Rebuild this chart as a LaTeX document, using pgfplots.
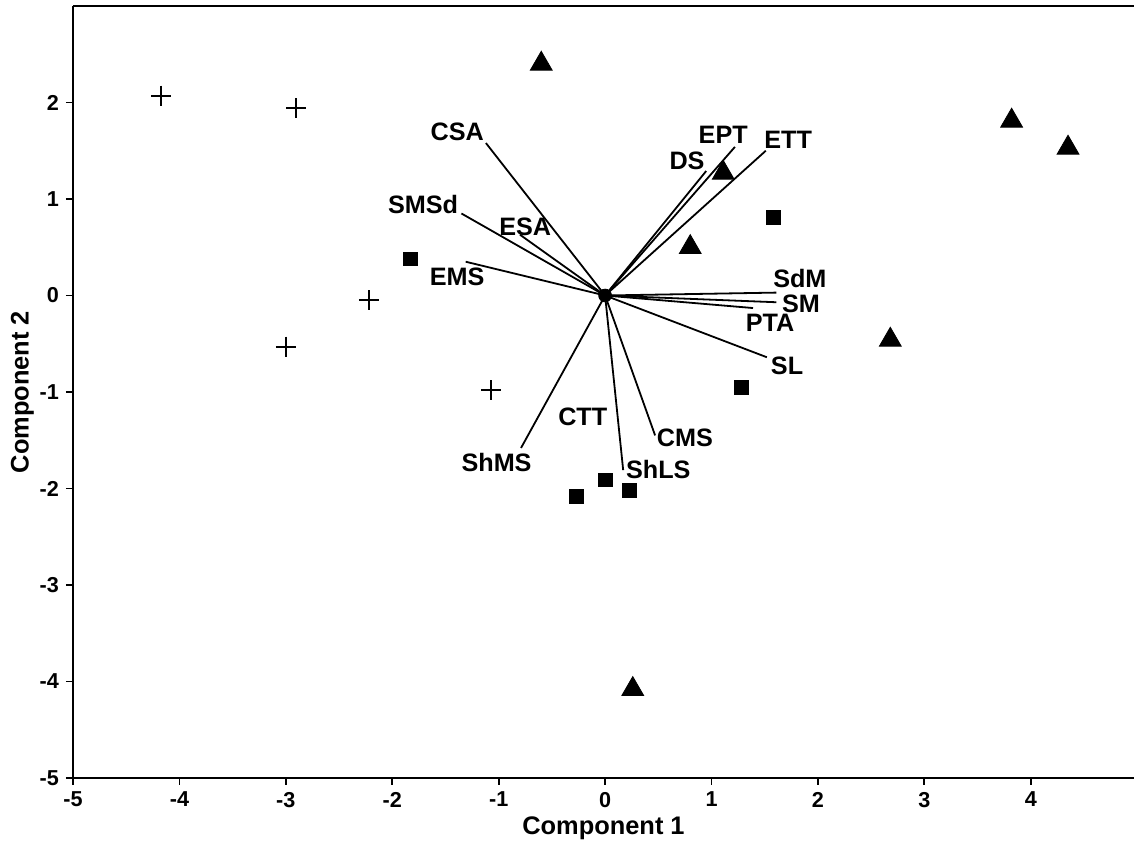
\documentclass[border=0pt]{standalone}
\usepackage{fontspec}
\setmainfont{Liberation Sans}
\usepackage{pgfplots}
\pgfplotsset{compat=1.18}
\usetikzlibrary{calc}
\begin{document}
\begin{tikzpicture}
\begin{axis}[
  scale only axis, width=530.5pt, height=386pt,
  xmin=-5, xmax=4.97, ymin=-5, ymax=3,
  xtick={-5,...,4}, ytick={-5,...,2},
  axis x line=box, axis y line=left,
  x axis line style={-, line width=1pt},
  y axis line style={-, line width=1pt},
  xtick pos=bottom, ytick pos=left,
  tick align=outside, major tick length=3.5pt,
  tick style={line width=0.9pt, black},
  /pgf/number format/assume math mode=true,
  ticklabel style={font=\fontsize{10.8}{12}\selectfont\bfseries},
  xlabel={Component 1}, ylabel={Component 2},
  label style={font=\fontsize{12.7}{14}\selectfont\bfseries},
  xlabel style={yshift=2pt},
  ylabel style={yshift=-4pt},
  clip=false,
]
% vectors
\pgfplotsforeachungrouped \vx/\vy in {-1.12/1.58, -1.35/0.85, -0.80/0.63, -1.31/0.35, 0.95/1.29, 1.22/1.54, 1.51/1.50, 1.61/0.03, 1.61/-0.07, 1.39/-0.13, 1.52/-0.64, -0.79/-1.58, 0.17/-1.81, 0.47/-1.45}{
  \edef\temp{\noexpand\addplot[black, line width=0.9pt, no marks] coordinates {(0,0) (\vx,\vy)};}
  \temp
}
% origin
\addplot[only marks, mark=*, mark size=3.2pt, black] coordinates {(0,0)};
% group 1: plus
\addplot[only marks, mark=+, mark size=5pt, black, line width=1pt] coordinates {
(-4.17,2.07) (-2.9,1.94) (-2.22,-0.05) (-3.0,-0.53) (-1.07,-0.98)};
% group 2: triangles
\addplot[only marks, mark=triangle*, mark size=6.3pt, black] coordinates {
(-0.60,2.40) (3.82,1.81) (4.35,1.53) (1.11,1.27) (0.80,0.50) (2.68,-0.46) (0.26,-4.08)};
% group 3: squares
\addplot[only marks, mark=square*, mark size=3.4pt, black] coordinates {
(1.58,0.81) (-1.83,0.38) (1.28,-0.95) (0.00,-1.91) (0.23,-2.02) (-0.27,-2.08)};
% labels
\tikzset{vl/.style={font=\fontsize{12.6}{14}\selectfont\bfseries, inner sep=0pt}}
\node[vl] at (axis cs:-1.39,1.70) {CSA};
\node[vl] at (axis cs:-1.71,0.94) {SMSd};
\node[vl] at (axis cs:-0.75,0.71) {ESA};
\node[vl] at (axis cs:-1.39,0.19) {EMS};
\node[vl] at (axis cs:0.77,1.40) {DS};
\node[vl] at (axis cs:1.11,1.66) {EPT};
\node[vl] at (axis cs:1.72,1.61) {ETT};
\node[vl] at (axis cs:1.83,0.18) {SdM};
\node[vl] at (axis cs:1.84,-0.09) {SM};
\node[vl] at (axis cs:1.55,-0.28) {PTA};
\node[vl] at (axis cs:1.71,-0.73) {SL};
\node[vl] at (axis cs:-0.21,-1.26) {CTT};
\node[vl] at (axis cs:-1.02,-1.73) {ShMS};
\node[vl] at (axis cs:0.50,-1.80) {ShLS};
\node[vl] at (axis cs:0.75,-1.48) {CMS};
\end{axis}
\pgfresetboundingbox
\useasboundingbox ($(current axis.south west)+(-36.5pt,-32pt)$) rectangle ($(current axis.north east)+(0pt,3pt)$);
\end{tikzpicture}
\end{document}
